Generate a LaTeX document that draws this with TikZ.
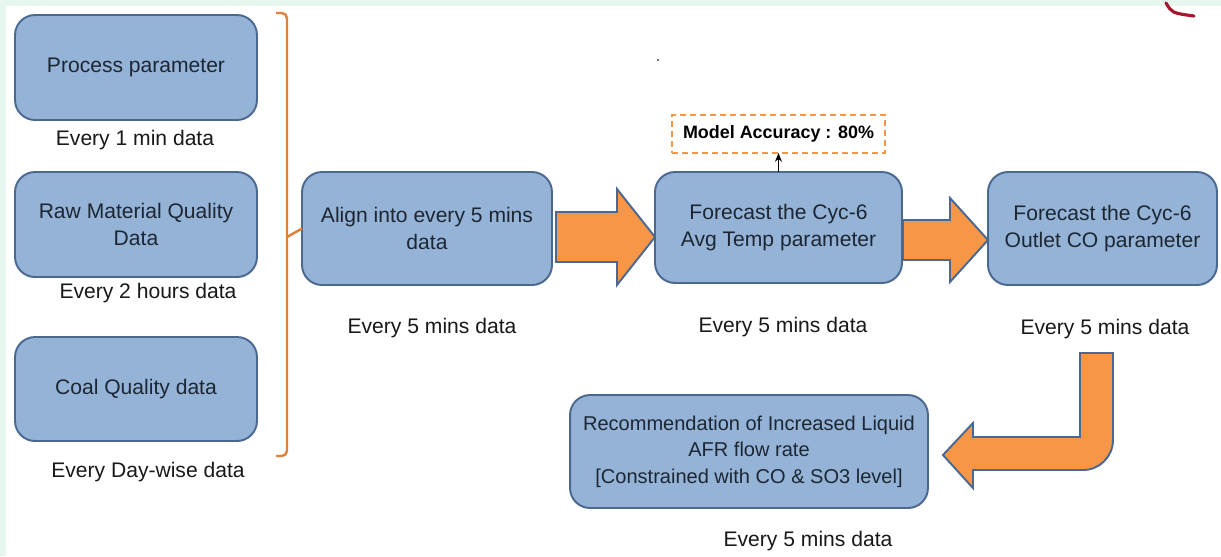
\documentclass[tikz,border=0pt]{standalone}
\usepackage{fontspec}
\setmainfont{Liberation Sans}
\usepackage{xcolor}
\definecolor{boxfill}{HTML}{95B3D7}
\definecolor{boxline}{HTML}{4A6890}
\definecolor{arrowfill}{HTML}{F79646}
\definecolor{bracecol}{HTML}{E2823A}
\definecolor{mint}{HTML}{E6F8EE}
\definecolor{logored}{HTML}{A3172F}
\definecolor{boxtext}{HTML}{1C2733}
\usepackage{tikz}
\usetikzlibrary{positioning}
\usetikzlibrary{calc}
\usetikzlibrary{arrows.meta}

\begin{document}
\begin{tikzpicture}[x=0.02cm,y=-0.02cm,every node/.style={inner sep=1,outer sep=0,font=\fontsize{12}{15.3}\selectfont},
	blk/.style={draw=boxline,fill=boxfill,line width=1.1pt,rounded corners=0.4cm,align=center,text=boxtext},
	lbl/.style={text=black!90},
	bigarrow/.style={draw=boxline,fill=arrowfill,line width=1.1pt,line join=miter}]
	% frame
	\fill[mint] (0,0) rectangle (1221,556);
	\fill[white] (6,6) rectangle (1221,556);
	\useasboundingbox (0,0) rectangle (1221,556);
	\draw[logored,line width=1.8pt,line cap=round] (1166,3) .. controls (1172,13) .. (1194,16);
	\fill[black!70] (658,60) circle (1.2);
	% inputs
	\node (proc) [blk,minimum width=4.84cm,minimum height=2.1cm] at (136,67.5) {Process parameter};
	\node (raw) [blk,minimum width=4.84cm,minimum height=2.1cm] at (136,224.5) {Raw Material Quality\\Data};
	\node (coal) [blk,minimum width=4.84cm,minimum height=2.08cm] at (136,389) {Coal Quality data};
	\node (procL) [lbl] at (135,140) {Every 1 min data};
	\node (rawL) [lbl] at (148,293) {Every 2 hours data};
	\node (coalL) [lbl] at (148,472) {Every Day-wise data};
	% steps
	\node (align) [blk,minimum width=5cm,minimum height=2.26cm] at (427,228.5) {Align into every 5 mins\\data};
	\node (fcT) [blk,minimum width=4.94cm,minimum height=2.22cm] at (778.5,227.5) {Forecast the Cyc-6\\Avg Temp parameter};
	\node (fcCO) [blk,minimum width=4.58cm,minimum height=2.26cm] at (1102.5,228.5) {Forecast the Cyc-6\\Outlet CO parameter};
	\node (rec) [blk,minimum width=7.16cm,minimum height=2.26cm,font=\fontsize{11.4}{15.1}\selectfont] at (749,451.5) {Recommendation of Increased Liquid\\AFR flow rate\\{[}Constrained with CO \& SO3 level{]}};
	\node (acc) [draw=arrowfill,line width=1.4pt,dash pattern=on 0.12cm off 0.08cm,minimum width=4.26cm,minimum height=0.76cm,font=\fontsize{10.2}{12}\selectfont\bfseries] at (778.5,134) {Model Accuracy : 80\%};
	\node (alignL) [lbl] at (432,328) {Every 5 mins data};
	\node (fcTL) [lbl] at (783,327) {Every 5 mins data};
	\node (fcCOL) [lbl] at (1105,329) {Every 5 mins data};
	\node (recL) [lbl] at (808,541) {Every 5 mins data};
	% bracket
	\coordinate (brc) at (287,237);
	\draw[bracecol,line width=1.4pt,rounded corners=3pt] (276,13) -- (287,13) -- (287,456) -- (276,456);
	\draw[bracecol,line width=1.4pt] (brc) -- (align.west);
	% arrows
	\draw[-{Stealth[length=5pt,width=4pt]},line width=0.9pt] (fcT.north) -- (acc.south);
	\draw[bigarrow] ($(align.east)+(4,-16.5)$) -- ($(align.east)+(65,-16.5)$) -- ($(align.east)+(65,-39.5)$)
		-- ($(fcT.west)+(0,9.5)$) -- ($(align.east)+(65,56.5)$) -- ($(align.east)+(65,33.5)$) -- ($(align.east)+(4,33.5)$) -- cycle;
	\draw[bigarrow] ($(fcT.east)+(1,-7.5)$) -- ($(fcT.east)+(48,-7.5)$) -- ($(fcT.east)+(48,-29.5)$)
		-- ($(fcCO.west)+(0,11.5)$) -- ($(fcT.east)+(48,54.5)$) -- ($(fcT.east)+(48,32.5)$) -- ($(fcT.east)+(1,32.5)$) -- cycle;
	\draw[bigarrow] ($(rec.east)+(15,3.5)$) -- ($(rec.east)+(45,-28.5)$) -- ($(rec.east)+(45,-14.5)$) -- ($(rec.east)+(152,-14.5)$)
		-- ($(rec.east)+(152,-98.5)$) -- ($(rec.east)+(185,-98.5)$) -- ($(rec.east)+(185,-11.5)$)
		.. controls ($(rec.east)+(185,5.1)$) and ($(rec.east)+(171.6,18.5)$) .. ($(rec.east)+(155,18.5)$)
		-- ($(rec.east)+(45,18.5)$) -- ($(rec.east)+(45,36.5)$) -- cycle;
\end{tikzpicture}
\end{document}
